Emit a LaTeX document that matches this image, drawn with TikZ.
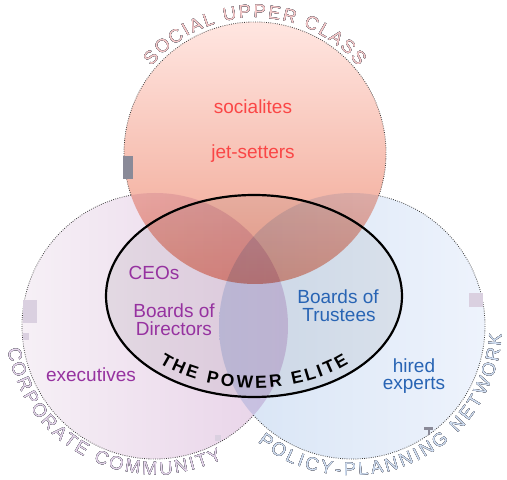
\documentclass[tikz,border=0pt]{standalone}
\usepackage{fontspec}
\setmainfont{Liberation Sans}
\usetikzlibrary{decorations.text}
\definecolor{redtxt}{RGB}{250,70,70}
\definecolor{purtxt}{RGB}{150,50,160}
\definecolor{bluetxt}{RGB}{40,100,180}
\definecolor{topA}{RGB}{255,230,225}
\definecolor{topB}{RGB}{240,160,140}
\definecolor{leftA}{RGB}{246,240,246}
\definecolor{leftB}{RGB}{232,210,232}
\definecolor{rightA}{RGB}{238,243,252}
\definecolor{rightB}{RGB}{215,228,245}
\definecolor{socfill}{RGB}{252,205,205}
\definecolor{corpfill}{RGB}{232,215,238}
\definecolor{polfill}{RGB}{210,225,245}
\definecolor{lblout}{RGB}{95,95,105}
\definecolor{artgray}{RGB}{138,138,152}
\definecolor{artpale}{RGB}{218,208,224}
\newcommand\ringfont{\fontsize{18.5}{18.5}\selectfont}
\newcommand\elitefont{\fontsize{17.5}{17.5}\selectfont\bfseries}
\newcommand\arclabel[6]{%
  \foreach \dx/\dy in {0.8/0,-0.8/0,0/0.8,0/-0.8,0.55/0.55,-0.55/0.55,0.55/-0.55,-0.55/-0.55}{%
    \path[shift={(\dx,\dy)}, decorate, decoration={text along path, text align={fit to path}, text color=lblout, text={|\ringfont|#5}}]
      (#1) ++(#3:#2) arc[start angle=#3, end angle=#4, radius=#2];}
  \path[decorate, decoration={text along path, text align={fit to path}, text color=#6, text={|\ringfont|#5}}]
      (#1) ++(#3:#2) arc[start angle=#3, end angle=#4, radius=#2];}
\begin{document}
\begin{tikzpicture}[x=1pt,y=1pt,
  inner/.style={font=\fontsize{19}{19}\selectfont, anchor=base, inner sep=0pt},
  fringe/.style={dash pattern=on 0.8pt off 1.4pt, line width=0.8pt, black!75}]
\useasboundingbox (0,0) rectangle (507,480);
\coordinate (T) at (255,327);
\coordinate (L) at (155,154);
\coordinate (R) at (352,154);
\coordinate (E) at (254,184);
% circles
\shade[top color=topA, bottom color=topB] (T) circle[radius=131];
\begin{scope}[blend mode=multiply]
  \shade[left color=leftA, right color=leftB] (L) circle[radius=133];
  \shade[left color=rightB, right color=rightA] (R) circle[radius=133];
  \fill[black!6] (E) ellipse[x radius=148, y radius=101];
\end{scope}
% outer fringe
\draw[fringe] (T) ++(-19.1:131) arc[start angle=-19.1, end angle=198.7, radius=131];
\draw[fringe] (L) ++(100.4:133) arc[start angle=100.4, end angle=317.8, radius=133];
\draw[fringe] (R) ++(222.2:133) arc[start angle=222.2, end angle=438.3, radius=133];
% power elite ellipse
\draw[line width=2.2pt] (E) ellipse[x radius=148, y radius=101];
\path[decorate, decoration={text along path, text align={fit to path}, text color=black, text={|\elitefont|THE POWER ELITE}}]
  (E) ++(227:139 and 92) arc[start angle=227, end angle=313, x radius=139, y radius=92];
% ring labels
\arclabel{T}{135}{140}{40}{SOCIAL UPPER CLASS}{socfill}
\arclabel{L}{149}{189}{297}{CORPORATE COMMUNITY}{corpfill}
\arclabel{R}{150}{231}{357}{POLICY-PLANNING NETWORK}{polfill}
% inner labels
\node[inner, text=redtxt] (soc) at (253,366) {socialites};
\node[inner, text=redtxt] (jet) at (253,321) {jet-setters};
\node[inner, text=purtxt] (ceo) at (154,200) {CEOs};
\node[inner, text=purtxt] (bd1) at (174,162) {Boards of};
\node[inner, text=purtxt] (bd2) at (174,144) {Directors};
\node[inner, text=bluetxt] (bt1) at (338,176) {Boards of};
\node[inner, text=bluetxt] (bt2) at (339,158) {Trustees};
\node[inner, text=purtxt] (exe) at (91,98) {executives};
\node[inner, text=bluetxt] (hir) at (414,107) {hired};
\node[inner, text=bluetxt] (exp) at (414,90) {experts};
% scan artifacts
\fill[artgray] (123,301) rectangle (133,324);
\fill[artpale] (469,173) rectangle (483,187);
\fill[artpale] (23,157) rectangle (37,180);
\fill[artpale] (23,140) rectangle (29,147);
\fill[artpale] (215,39) rectangle (221,45);
\fill[artgray] (424,50) rectangle (433,52.5);
\fill[artgray] (427.5,45) rectangle (429.5,50);
\end{tikzpicture}
\end{document}
